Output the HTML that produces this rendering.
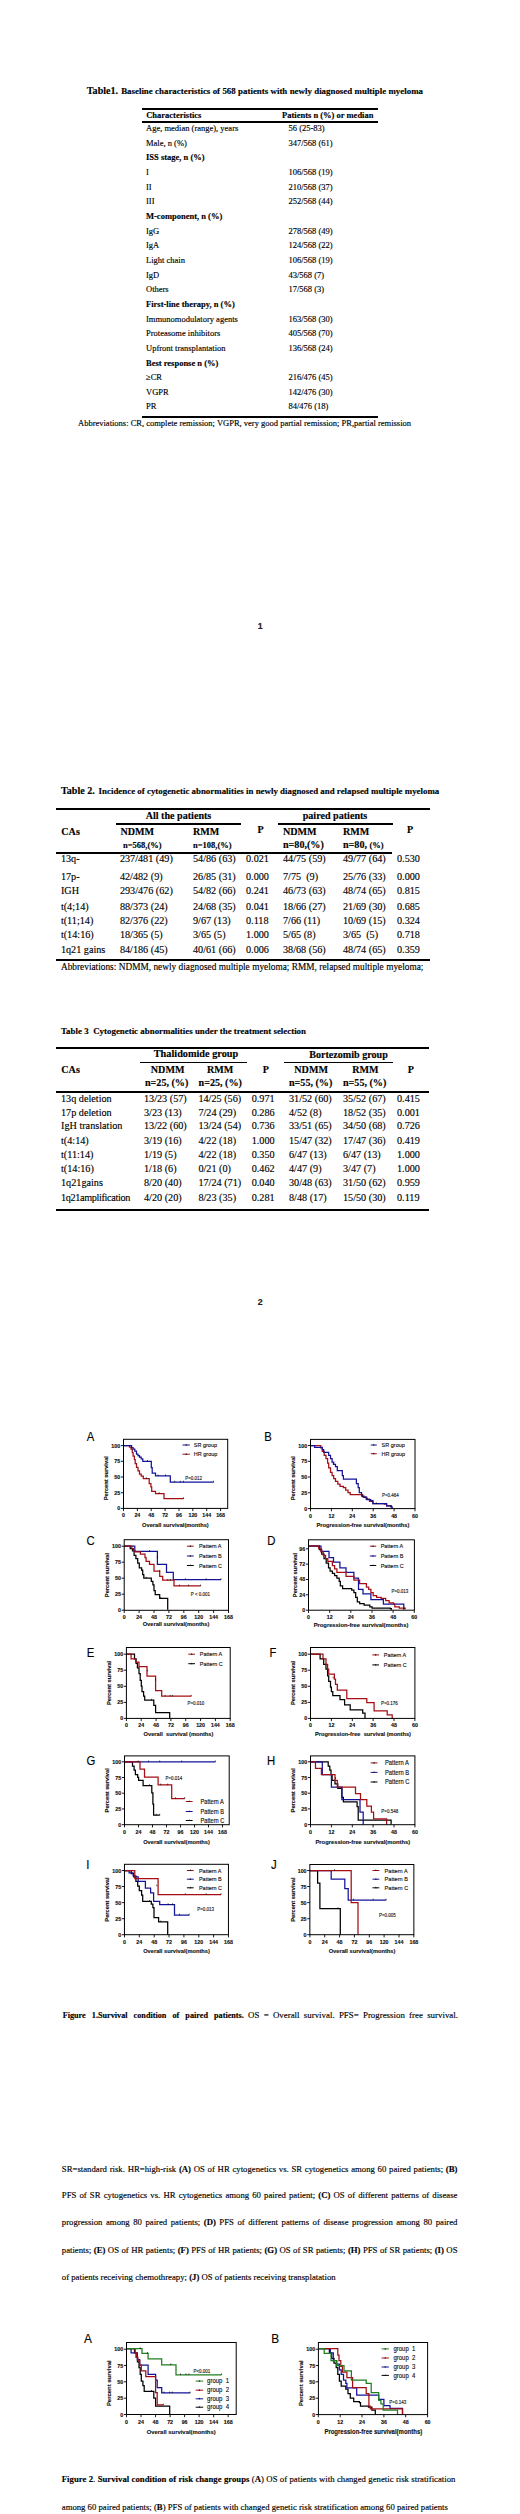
<!DOCTYPE html>
<html lang="en">
<head>
<meta charset="utf-8">
<title>Supplementary tables and figures</title>
<style>
html,body{margin:0;padding:0;background:#fff;}
body{width:520px;height:2514px;position:relative;overflow:hidden;font-family:"Liberation Serif",serif;color:#000;}
.t{position:absolute;white-space:nowrap;-webkit-text-stroke:0.14px #000;}
.l{position:absolute;}
svg{position:absolute;left:0;top:0;overflow:visible;}
svg text{font-family:"Liberation Sans",sans-serif;}
</style>
</head>
<body>
<div class="t" style="left:86.8px;top:84.93px;font-size:10.1px;line-height:12.12px;font-weight:bold;">Table1.</div>
<div class="t" style="left:121.2px;top:86.06px;font-size:8.9px;line-height:10.68px;font-weight:bold;width:301.8px;text-align:justify;text-align-last:justify;">Baseline characteristics of 568 patients with newly diagnosed multiple myeloma</div>
<div class="l" style="left:142px;top:108.10px;width:236.2px;height:2.0px;background:#000"></div>
<div class="l" style="left:142px;top:120.65px;width:236.2px;height:1.9px;background:#000"></div>
<div class="t" style="left:146.2px;top:110.13px;font-size:8.5px;line-height:10.2px;font-weight:bold;">Characteristics</div>
<div class="t" style="left:282px;top:110.13px;font-size:8.5px;line-height:10.2px;font-weight:bold;">Patients n (%) or median</div>
<div class="t" style="left:146px;top:123.03px;font-size:8.5px;line-height:10.2px;">Age, median (range), years</div>
<div class="t" style="left:288.5px;top:123.03px;font-size:8.5px;line-height:10.2px;">56 (25-83)</div>
<div class="t" style="left:146px;top:137.69px;font-size:8.5px;line-height:10.2px;">Male, n (%)</div>
<div class="t" style="left:288.5px;top:137.69px;font-size:8.5px;line-height:10.2px;">347/568 (61)</div>
<div class="t" style="left:146px;top:152.34px;font-size:8.5px;line-height:10.2px;font-weight:bold;">ISS stage, n (%)</div>
<div class="t" style="left:146px;top:167.00px;font-size:8.5px;line-height:10.2px;">I</div>
<div class="t" style="left:288.5px;top:167.00px;font-size:8.5px;line-height:10.2px;">106/568 (19)</div>
<div class="t" style="left:146px;top:181.65px;font-size:8.5px;line-height:10.2px;">II</div>
<div class="t" style="left:288.5px;top:181.65px;font-size:8.5px;line-height:10.2px;">210/568 (37)</div>
<div class="t" style="left:146px;top:196.31px;font-size:8.5px;line-height:10.2px;">III</div>
<div class="t" style="left:288.5px;top:196.31px;font-size:8.5px;line-height:10.2px;">252/568 (44)</div>
<div class="t" style="left:146px;top:210.96px;font-size:8.5px;line-height:10.2px;font-weight:bold;">M-component, n (%)</div>
<div class="t" style="left:146px;top:225.62px;font-size:8.5px;line-height:10.2px;">IgG</div>
<div class="t" style="left:288.5px;top:225.62px;font-size:8.5px;line-height:10.2px;">278/568 (49)</div>
<div class="t" style="left:146px;top:240.27px;font-size:8.5px;line-height:10.2px;">IgA</div>
<div class="t" style="left:288.5px;top:240.27px;font-size:8.5px;line-height:10.2px;">124/568 (22)</div>
<div class="t" style="left:146px;top:254.93px;font-size:8.5px;line-height:10.2px;">Light chain</div>
<div class="t" style="left:288.5px;top:254.93px;font-size:8.5px;line-height:10.2px;">106/568 (19)</div>
<div class="t" style="left:146px;top:269.58px;font-size:8.5px;line-height:10.2px;">IgD</div>
<div class="t" style="left:288.5px;top:269.58px;font-size:8.5px;line-height:10.2px;">43/568 (7)</div>
<div class="t" style="left:146px;top:284.24px;font-size:8.5px;line-height:10.2px;">Others</div>
<div class="t" style="left:288.5px;top:284.24px;font-size:8.5px;line-height:10.2px;">17/568 (3)</div>
<div class="t" style="left:146px;top:298.89px;font-size:8.5px;line-height:10.2px;font-weight:bold;">First-line therapy, n (%)</div>
<div class="t" style="left:146px;top:313.55px;font-size:8.5px;line-height:10.2px;">Immunomodulatory agents</div>
<div class="t" style="left:288.5px;top:313.55px;font-size:8.5px;line-height:10.2px;">163/568 (30)</div>
<div class="t" style="left:146px;top:328.20px;font-size:8.5px;line-height:10.2px;">Proteasome inhibitors</div>
<div class="t" style="left:288.5px;top:328.20px;font-size:8.5px;line-height:10.2px;">405/568 (70)</div>
<div class="t" style="left:146px;top:342.86px;font-size:8.5px;line-height:10.2px;">Upfront transplantation</div>
<div class="t" style="left:288.5px;top:342.86px;font-size:8.5px;line-height:10.2px;">136/568 (24)</div>
<div class="t" style="left:146px;top:357.51px;font-size:8.5px;line-height:10.2px;font-weight:bold;">Best response n (%)</div>
<div class="t" style="left:146px;top:372.17px;font-size:8.5px;line-height:10.2px;">≥CR</div>
<div class="t" style="left:288.5px;top:372.17px;font-size:8.5px;line-height:10.2px;">216/476 (45)</div>
<div class="t" style="left:146px;top:386.82px;font-size:8.5px;line-height:10.2px;">VGPR</div>
<div class="t" style="left:288.5px;top:386.82px;font-size:8.5px;line-height:10.2px;">142/476 (30)</div>
<div class="t" style="left:146px;top:401.48px;font-size:8.5px;line-height:10.2px;">PR</div>
<div class="t" style="left:288.5px;top:401.48px;font-size:8.5px;line-height:10.2px;">84/476 (18)</div>
<div class="l" style="left:142px;top:416.00px;width:236.2px;height:2.0px;background:#000"></div>
<div class="t" style="left:78px;top:418.03px;font-size:8.5px;line-height:10.2px;width:333px;text-align:justify;text-align-last:justify;">Abbreviations: CR, complete remission; VGPR, very good partial remission; PR,partial remission</div>
<div class="t" style="left:257.8px;top:621.47px;font-size:8.8px;line-height:10.56px;font-weight:bold;font-family:'Liberation Sans', sans-serif;color:#222;">1</div>
<div class="t" style="left:257.8px;top:1297.17px;font-size:8.8px;line-height:10.56px;font-weight:bold;font-family:'Liberation Sans', sans-serif;color:#222;">2</div>
<div class="t" style="left:61px;top:785.03px;font-size:10.1px;line-height:12.12px;font-weight:bold;">Table 2.</div>
<div class="t" style="left:98.6px;top:786.17px;font-size:8.88px;line-height:10.66px;font-weight:bold;width:340.7px;text-align:justify;text-align-last:justify;">Incidence of cytogenetic abnormalities in newly diagnosed and relapsed multiple myeloma</div>
<div class="l" style="left:56.3px;top:808.10px;width:373.7px;height:2.0px;background:#000"></div>
<div class="l" style="left:115.5px;top:823.45px;width:125.5px;height:1.7px;background:#000"></div>
<div class="l" style="left:277.5px;top:823.45px;width:115.0px;height:1.7px;background:#000"></div>
<div class="l" style="left:56.3px;top:851.85px;width:336.2px;height:1.9px;background:#000"></div>
<div class="l" style="left:56.3px;top:959.30px;width:373.7px;height:2.0px;background:#000"></div>
<div class="t" style="left:116px;top:810.33px;font-size:10.1px;line-height:12.12px;font-weight:bold;width:125px;text-align:center;">All the patients</div>
<div class="t" style="left:277.5px;top:810.33px;font-size:10.1px;line-height:12.12px;font-weight:bold;width:115px;text-align:center;">paired patients</div>
<div class="t" style="left:61.3px;top:825.63px;font-size:10.1px;line-height:12.12px;font-weight:bold;">CAs</div>
<div class="t" style="left:120.5px;top:825.63px;font-size:10.1px;line-height:12.12px;font-weight:bold;">NDMM</div>
<div class="t" style="left:193px;top:825.63px;font-size:10.1px;line-height:12.12px;font-weight:bold;">RMM</div>
<div class="t" style="left:283px;top:825.63px;font-size:10.1px;line-height:12.12px;font-weight:bold;">NDMM</div>
<div class="t" style="left:343px;top:825.63px;font-size:10.1px;line-height:12.12px;font-weight:bold;">RMM</div>
<div class="t" style="left:257.6px;top:824.03px;font-size:10.1px;line-height:12.12px;font-weight:bold;">P</div>
<div class="t" style="left:407px;top:824.03px;font-size:10.1px;line-height:12.12px;font-weight:bold;">P</div>
<div class="t" style="left:123px;top:840.13px;font-size:8.5px;line-height:10.2px;font-weight:bold;">n=568,(%)</div>
<div class="t" style="left:193px;top:840.13px;font-size:8.5px;line-height:10.2px;font-weight:bold;">n=108,(%)</div>
<div class="t" style="left:283px;top:838.63px;font-size:10.1px;line-height:12.12px;font-weight:bold;">n=80,(%)</div>
<div class="t" style="left:343px;top:838.63px;font-size:10.1px;line-height:12.12px;font-weight:bold;">n=80, <span style="font-size:8.5px">(%)</span></div>
<div class="t" style="left:60.9px;top:853.34px;font-size:10.2px;line-height:12.24px;">13q-</div>
<div class="t" style="left:119.9px;top:853.34px;font-size:10.2px;line-height:12.24px;">237/481 (49)</div>
<div class="t" style="left:193px;top:853.34px;font-size:10.2px;line-height:12.24px;">54/86 (63)</div>
<div class="t" style="left:246px;top:853.34px;font-size:10.2px;line-height:12.24px;">0.021</div>
<div class="t" style="left:283px;top:853.34px;font-size:10.2px;line-height:12.24px;">44/75 (59)</div>
<div class="t" style="left:343px;top:853.34px;font-size:10.2px;line-height:12.24px;">49/77 (64)</div>
<div class="t" style="left:397px;top:853.34px;font-size:10.2px;line-height:12.24px;">0.530</div>
<div class="t" style="left:60.9px;top:870.94px;font-size:10.2px;line-height:12.24px;">17p-</div>
<div class="t" style="left:119.9px;top:870.94px;font-size:10.2px;line-height:12.24px;">42/482 (9)</div>
<div class="t" style="left:193px;top:870.94px;font-size:10.2px;line-height:12.24px;">26/85 (31)</div>
<div class="t" style="left:246px;top:870.94px;font-size:10.2px;line-height:12.24px;">0.000</div>
<div class="t" style="left:283px;top:870.94px;font-size:10.2px;line-height:12.24px;">7/75  (9)</div>
<div class="t" style="left:343px;top:870.94px;font-size:10.2px;line-height:12.24px;">25/76 (33)</div>
<div class="t" style="left:397px;top:870.94px;font-size:10.2px;line-height:12.24px;">0.000</div>
<div class="t" style="left:60.9px;top:884.54px;font-size:10.2px;line-height:12.24px;">IGH</div>
<div class="t" style="left:119.9px;top:884.54px;font-size:10.2px;line-height:12.24px;">293/476 (62)</div>
<div class="t" style="left:193px;top:884.54px;font-size:10.2px;line-height:12.24px;">54/82 (66)</div>
<div class="t" style="left:246px;top:884.54px;font-size:10.2px;line-height:12.24px;">0.241</div>
<div class="t" style="left:283px;top:884.54px;font-size:10.2px;line-height:12.24px;">46/73 (63)</div>
<div class="t" style="left:343px;top:884.54px;font-size:10.2px;line-height:12.24px;">48/74 (65)</div>
<div class="t" style="left:397px;top:884.54px;font-size:10.2px;line-height:12.24px;">0.815</div>
<div class="t" style="left:60.9px;top:901.44px;font-size:10.2px;line-height:12.24px;">t(4;14)</div>
<div class="t" style="left:119.9px;top:901.44px;font-size:10.2px;line-height:12.24px;">88/373 (24)</div>
<div class="t" style="left:193px;top:901.44px;font-size:10.2px;line-height:12.24px;">24/68 (35)</div>
<div class="t" style="left:246px;top:901.44px;font-size:10.2px;line-height:12.24px;">0.041</div>
<div class="t" style="left:283px;top:901.44px;font-size:10.2px;line-height:12.24px;">18/66 (27)</div>
<div class="t" style="left:343px;top:901.44px;font-size:10.2px;line-height:12.24px;">21/69 (30)</div>
<div class="t" style="left:397px;top:901.44px;font-size:10.2px;line-height:12.24px;">0.685</div>
<div class="t" style="left:60.9px;top:915.04px;font-size:10.2px;line-height:12.24px;">t(11;14)</div>
<div class="t" style="left:119.9px;top:915.04px;font-size:10.2px;line-height:12.24px;">82/376 (22)</div>
<div class="t" style="left:193px;top:915.04px;font-size:10.2px;line-height:12.24px;">9/67 (13)</div>
<div class="t" style="left:246px;top:915.04px;font-size:10.2px;line-height:12.24px;">0.118</div>
<div class="t" style="left:283px;top:915.04px;font-size:10.2px;line-height:12.24px;">7/66 (11)</div>
<div class="t" style="left:343px;top:915.04px;font-size:10.2px;line-height:12.24px;">10/69 (15)</div>
<div class="t" style="left:397px;top:915.04px;font-size:10.2px;line-height:12.24px;">0.324</div>
<div class="t" style="left:60.9px;top:928.54px;font-size:10.2px;line-height:12.24px;">t(14:16)</div>
<div class="t" style="left:119.9px;top:928.54px;font-size:10.2px;line-height:12.24px;">18/365 (5)</div>
<div class="t" style="left:193px;top:928.54px;font-size:10.2px;line-height:12.24px;">3/65 (5)</div>
<div class="t" style="left:246px;top:928.54px;font-size:10.2px;line-height:12.24px;">1.000</div>
<div class="t" style="left:283px;top:928.54px;font-size:10.2px;line-height:12.24px;">5/65 (8)</div>
<div class="t" style="left:343px;top:928.54px;font-size:10.2px;line-height:12.24px;">3/65  (5)</div>
<div class="t" style="left:397px;top:928.54px;font-size:10.2px;line-height:12.24px;">0.718</div>
<div class="t" style="left:60.9px;top:944.24px;font-size:10.2px;line-height:12.24px;">1q21 gains</div>
<div class="t" style="left:119.9px;top:944.24px;font-size:10.2px;line-height:12.24px;">84/186 (45)</div>
<div class="t" style="left:193px;top:944.24px;font-size:10.2px;line-height:12.24px;">40/61 (66)</div>
<div class="t" style="left:246px;top:944.24px;font-size:10.2px;line-height:12.24px;">0.006</div>
<div class="t" style="left:283px;top:944.24px;font-size:10.2px;line-height:12.24px;">38/68 (56)</div>
<div class="t" style="left:343px;top:944.24px;font-size:10.2px;line-height:12.24px;">48/74 (65)</div>
<div class="t" style="left:397px;top:944.24px;font-size:10.2px;line-height:12.24px;">0.359</div>
<div class="t" style="left:61px;top:961.68px;font-size:9.3px;line-height:11.16px;width:362.4px;text-align:justify;text-align-last:justify;">Abbreviations: NDMM, newly diagnosed multiple myeloma; RMM, relapsed multiple myeloma;</div>
<div class="t" style="left:61px;top:1025.56px;font-size:8.9px;line-height:10.68px;font-weight:bold;width:245px;text-align:justify;text-align-last:justify;">Table 3  Cytogenetic abnormalities under the treatment selection</div>
<div class="l" style="left:56px;top:1046.50px;width:372.5px;height:2.0px;background:#000"></div>
<div class="l" style="left:139.5px;top:1061.75px;width:107.80000000000001px;height:1.7px;background:#000"></div>
<div class="l" style="left:284px;top:1061.75px;width:108.5px;height:1.7px;background:#000"></div>
<div class="l" style="left:56px;top:1091.05px;width:372.5px;height:1.7px;background:#000"></div>
<div class="l" style="left:56px;top:1209.30px;width:372.5px;height:2.0px;background:#000"></div>
<div class="t" style="left:142.1px;top:1048.49px;font-size:10.25px;line-height:12.3px;font-weight:bold;width:107.8px;text-align:center;">Thalidomide group</div>
<div class="t" style="left:283px;top:1048.63px;font-size:10.1px;line-height:12.12px;font-weight:bold;width:131px;text-align:center;">Bortezomib group</div>
<div class="t" style="left:61.3px;top:1064.23px;font-size:10.1px;line-height:12.12px;font-weight:bold;">CAs</div>
<div class="t" style="left:150.8px;top:1064.23px;font-size:10.1px;line-height:12.12px;font-weight:bold;">NDMM</div>
<div class="t" style="left:207px;top:1064.23px;font-size:10.1px;line-height:12.12px;font-weight:bold;">RMM</div>
<div class="t" style="left:294.3px;top:1064.23px;font-size:10.1px;line-height:12.12px;font-weight:bold;">NDMM</div>
<div class="t" style="left:352.2px;top:1064.23px;font-size:10.1px;line-height:12.12px;font-weight:bold;">RMM</div>
<div class="t" style="left:262.7px;top:1064.43px;font-size:10.1px;line-height:12.12px;font-weight:bold;">P</div>
<div class="t" style="left:407.7px;top:1064.43px;font-size:10.1px;line-height:12.12px;font-weight:bold;">P</div>
<div class="t" style="left:145px;top:1077.43px;font-size:10.1px;line-height:12.12px;font-weight:bold;">n=25, (%)</div>
<div class="t" style="left:198.6px;top:1077.43px;font-size:10.1px;line-height:12.12px;font-weight:bold;">n=25, (%)</div>
<div class="t" style="left:289px;top:1077.43px;font-size:10.1px;line-height:12.12px;font-weight:bold;">n=55, (%)</div>
<div class="t" style="left:343px;top:1077.43px;font-size:10.1px;line-height:12.12px;font-weight:bold;">n=55, (%)</div>
<div class="t" style="left:61.0px;top:1092.84px;font-size:10.2px;line-height:12.24px;">13q deletion</div>
<div class="t" style="left:144.0px;top:1092.84px;font-size:10.2px;line-height:12.24px;">13/23 (57)</div>
<div class="t" style="left:198.4px;top:1092.84px;font-size:10.2px;line-height:12.24px;">14/25 (56)</div>
<div class="t" style="left:251.7px;top:1092.84px;font-size:10.2px;line-height:12.24px;">0.971</div>
<div class="t" style="left:289px;top:1092.84px;font-size:10.2px;line-height:12.24px;">31/52 (60)</div>
<div class="t" style="left:343px;top:1092.84px;font-size:10.2px;line-height:12.24px;">35/52 (67)</div>
<div class="t" style="left:397px;top:1092.84px;font-size:10.2px;line-height:12.24px;">0.415</div>
<div class="t" style="left:61.0px;top:1106.84px;font-size:10.2px;line-height:12.24px;">17p deletion</div>
<div class="t" style="left:144.0px;top:1106.84px;font-size:10.2px;line-height:12.24px;">3/23 (13)</div>
<div class="t" style="left:198.4px;top:1106.84px;font-size:10.2px;line-height:12.24px;">7/24 (29)</div>
<div class="t" style="left:251.7px;top:1106.84px;font-size:10.2px;line-height:12.24px;">0.286</div>
<div class="t" style="left:289px;top:1106.84px;font-size:10.2px;line-height:12.24px;">4/52 (8)</div>
<div class="t" style="left:343px;top:1106.84px;font-size:10.2px;line-height:12.24px;">18/52 (35)</div>
<div class="t" style="left:397px;top:1106.84px;font-size:10.2px;line-height:12.24px;">0.001</div>
<div class="t" style="left:61.0px;top:1120.34px;font-size:10.2px;line-height:12.24px;">IgH translation</div>
<div class="t" style="left:144.0px;top:1120.34px;font-size:10.2px;line-height:12.24px;">13/22 (60)</div>
<div class="t" style="left:198.4px;top:1120.34px;font-size:10.2px;line-height:12.24px;">13/24 (54)</div>
<div class="t" style="left:251.7px;top:1120.34px;font-size:10.2px;line-height:12.24px;">0.736</div>
<div class="t" style="left:289px;top:1120.34px;font-size:10.2px;line-height:12.24px;">33/51 (65)</div>
<div class="t" style="left:343px;top:1120.34px;font-size:10.2px;line-height:12.24px;">34/50 (68)</div>
<div class="t" style="left:397px;top:1120.34px;font-size:10.2px;line-height:12.24px;">0.726</div>
<div class="t" style="left:61.0px;top:1135.34px;font-size:10.2px;line-height:12.24px;">t(4:14)</div>
<div class="t" style="left:144.0px;top:1135.34px;font-size:10.2px;line-height:12.24px;">3/19 (16)</div>
<div class="t" style="left:198.4px;top:1135.34px;font-size:10.2px;line-height:12.24px;">4/22 (18)</div>
<div class="t" style="left:251.7px;top:1135.34px;font-size:10.2px;line-height:12.24px;">1.000</div>
<div class="t" style="left:289px;top:1135.34px;font-size:10.2px;line-height:12.24px;">15/47 (32)</div>
<div class="t" style="left:343px;top:1135.34px;font-size:10.2px;line-height:12.24px;">17/47 (36)</div>
<div class="t" style="left:397px;top:1135.34px;font-size:10.2px;line-height:12.24px;">0.419</div>
<div class="t" style="left:61.0px;top:1148.94px;font-size:10.2px;line-height:12.24px;">t(11:14)</div>
<div class="t" style="left:144.0px;top:1148.94px;font-size:10.2px;line-height:12.24px;">1/19 (5)</div>
<div class="t" style="left:198.4px;top:1148.94px;font-size:10.2px;line-height:12.24px;">4/22 (18)</div>
<div class="t" style="left:251.7px;top:1148.94px;font-size:10.2px;line-height:12.24px;">0.350</div>
<div class="t" style="left:289px;top:1148.94px;font-size:10.2px;line-height:12.24px;">6/47 (13)</div>
<div class="t" style="left:343px;top:1148.94px;font-size:10.2px;line-height:12.24px;">6/47 (13)</div>
<div class="t" style="left:397px;top:1148.94px;font-size:10.2px;line-height:12.24px;">1.000</div>
<div class="t" style="left:61.0px;top:1162.74px;font-size:10.2px;line-height:12.24px;">t(14:16)</div>
<div class="t" style="left:144.0px;top:1162.74px;font-size:10.2px;line-height:12.24px;">1/18 (6)</div>
<div class="t" style="left:198.4px;top:1162.74px;font-size:10.2px;line-height:12.24px;">0/21 (0)</div>
<div class="t" style="left:251.7px;top:1162.74px;font-size:10.2px;line-height:12.24px;">0.462</div>
<div class="t" style="left:289px;top:1162.74px;font-size:10.2px;line-height:12.24px;">4/47 (9)</div>
<div class="t" style="left:343px;top:1162.74px;font-size:10.2px;line-height:12.24px;">3/47 (7)</div>
<div class="t" style="left:397px;top:1162.74px;font-size:10.2px;line-height:12.24px;">1.000</div>
<div class="t" style="left:61.0px;top:1177.04px;font-size:10.2px;line-height:12.24px;">1q21gains</div>
<div class="t" style="left:144.0px;top:1177.04px;font-size:10.2px;line-height:12.24px;">8/20 (40)</div>
<div class="t" style="left:198.4px;top:1177.04px;font-size:10.2px;line-height:12.24px;">17/24 (71)</div>
<div class="t" style="left:251.7px;top:1177.04px;font-size:10.2px;line-height:12.24px;">0.040</div>
<div class="t" style="left:289px;top:1177.04px;font-size:10.2px;line-height:12.24px;">30/48 (63)</div>
<div class="t" style="left:343px;top:1177.04px;font-size:10.2px;line-height:12.24px;">31/50 (62)</div>
<div class="t" style="left:397px;top:1177.04px;font-size:10.2px;line-height:12.24px;">0.959</div>
<div class="t" style="left:61.0px;top:1192.24px;font-size:10.2px;line-height:12.24px;letter-spacing:-0.34px;">1q21amplification</div>
<div class="t" style="left:144.0px;top:1192.24px;font-size:10.2px;line-height:12.24px;">4/20 (20)</div>
<div class="t" style="left:198.4px;top:1192.24px;font-size:10.2px;line-height:12.24px;">8/23 (35)</div>
<div class="t" style="left:251.7px;top:1192.24px;font-size:10.2px;line-height:12.24px;">0.281</div>
<div class="t" style="left:289px;top:1192.24px;font-size:10.2px;line-height:12.24px;">8/48 (17)</div>
<div class="t" style="left:343px;top:1192.24px;font-size:10.2px;line-height:12.24px;">15/50 (30)</div>
<div class="t" style="left:397px;top:1192.24px;font-size:10.2px;line-height:12.24px;">0.119</div>
<div class="t" style="left:62.7px;top:2010.06px;font-size:8.9px;line-height:10.68px;width:395.3px;text-align:justify;text-align-last:justify;"><b style="font-size:8.2px;word-spacing:2px">Figure 1.Survival condition of paired patients.</b> OS = Overall survival. PFS= Progression free survival.</div>
<div class="t" style="left:61.8px;top:2163.53px;font-size:8.72px;line-height:10.46px;width:395.7px;text-align:justify;text-align-last:justify;">SR=standard risk. HR=high-risk <b>(A)</b> OS of HR cytogenetics vs. SR cytogenetics among 60 paired patients; <b>(B)</b></div>
<div class="t" style="left:61.8px;top:2190.23px;font-size:8.72px;line-height:10.46px;width:395.7px;text-align:justify;text-align-last:justify;">PFS of SR cytogenetics vs. HR cytogenetics among 60 paired patient; <b>(C)</b> OS of different patterns of disease</div>
<div class="t" style="left:61.8px;top:2217.33px;font-size:8.72px;line-height:10.46px;width:395.7px;text-align:justify;text-align-last:justify;">progression among 80 paired patients; <b>(D)</b> PFS of different patterns of disease progression among 80 paired</div>
<div class="t" style="left:61.8px;top:2244.83px;font-size:8.72px;line-height:10.46px;width:395.7px;text-align:justify;text-align-last:justify;">patients; <b>(E)</b> OS of HR patients; <b>(F)</b> PFS of HR patients; <b>(G)</b> OS of SR patients; <b>(H)</b> PFS of SR patients; <b>(I)</b> OS</div>
<div class="t" style="left:61.8px;top:2271.53px;font-size:8.72px;line-height:10.46px;">of patients receiving chemothreapy; <b>(J)</b> OS of patients receiving transplatation</div>
<div class="t" style="left:61.8px;top:2474.33px;font-size:8.72px;line-height:10.46px;width:393.6px;text-align:justify;text-align-last:justify;"><b>Figure 2</b>. <b>Survival condition of risk change groups</b> (<b>A</b>) OS of patients with changed genetic risk stratification</div>
<div class="t" style="left:61.8px;top:2501.84px;font-size:8.7px;line-height:10.44px;">among 60 paired patients; (<b>B</b>) PFS of patients with changed genetic risk stratification among 60 paired patients</div>
<svg width="520" height="2514" viewBox="0 0 520 2514">
<g stroke="#000" stroke-width="0.12" paint-order="stroke">
<g>
<text transform="translate(86.70 1440.8) scale(0.9 1)" font-size="12.6" fill="#000">A</text>
<path d="M123.6 1445.5H128.5H129.5V1447.0H131.0V1449.1H132.3V1452.5H133.1V1456.1H134.4V1459.7H135.2V1463.5H136.5V1467.3H138.0V1470.9H139.5V1474.1H141.2V1476.2H143.3V1478.7H149.2V1483.6H150.9V1486.8H151.7V1491.4H155.5V1493.5H164.0V1498.6H183.5" fill="none" stroke="#a50e14" stroke-width="1.25"/>
<path d="M123.6 1445.5H130.6H131.6V1447.6H133.1V1449.1H134.8V1451.2H136.5V1454.0H138.0V1455.5H139.5V1457.2H141.2V1458.8H142.8V1461.4H151.3V1467.7H152.2V1473.0H155.5V1475.8H170.3V1482.1H213.5" fill="none" stroke="#13139a" stroke-width="1.25"/>
<path d="M139.5 1455.9v1.5M147.5 1460.1v1.5M158.1 1474.5v1.5M165.5 1474.5v1.5M174.6 1480.8v1.5M180.3 1480.8v1.5M183.5 1480.8v1.5M213.5 1480.8v1.5M146.4 1477.4v1.5M159.1 1492.2v1.5M183.5 1497.3v1.5" stroke="#000" stroke-width="0.7" fill="none"/>
<rect x="123.5" y="1439.3" width="104.2" height="69.1" fill="none" stroke="#000" stroke-width="1.0"/>
<text transform="translate(123.50 1517.40) scale(1 1.06)" font-size="5.3" font-weight="bold" text-anchor="middle" fill="#111" xml:space="preserve">0</text>
<text transform="translate(137.37 1517.40) scale(1 1.06)" font-size="5.3" font-weight="bold" text-anchor="middle" fill="#111" xml:space="preserve">24</text>
<text transform="translate(151.24 1517.40) scale(1 1.06)" font-size="5.3" font-weight="bold" text-anchor="middle" fill="#111" xml:space="preserve">48</text>
<text transform="translate(165.11 1517.40) scale(1 1.06)" font-size="5.3" font-weight="bold" text-anchor="middle" fill="#111" xml:space="preserve">72</text>
<text transform="translate(178.98 1517.40) scale(1 1.06)" font-size="5.3" font-weight="bold" text-anchor="middle" fill="#111" xml:space="preserve">96</text>
<text transform="translate(192.85 1517.40) scale(1 1.06)" font-size="5.3" font-weight="bold" text-anchor="middle" fill="#111" xml:space="preserve">120</text>
<text transform="translate(206.72 1517.40) scale(1 1.06)" font-size="5.3" font-weight="bold" text-anchor="middle" fill="#111" xml:space="preserve">144</text>
<text transform="translate(220.59 1517.40) scale(1 1.06)" font-size="5.3" font-weight="bold" text-anchor="middle" fill="#111" xml:space="preserve">168</text>
<text transform="translate(120.20 1447.60) scale(1 1.06)" font-size="5.3" font-weight="bold" text-anchor="end" fill="#111" xml:space="preserve">100</text>
<text transform="translate(120.20 1463.30) scale(1 1.06)" font-size="5.3" font-weight="bold" text-anchor="end" fill="#111" xml:space="preserve">75</text>
<text transform="translate(120.20 1479.00) scale(1 1.06)" font-size="5.3" font-weight="bold" text-anchor="end" fill="#111" xml:space="preserve">50</text>
<text transform="translate(120.20 1494.70) scale(1 1.06)" font-size="5.3" font-weight="bold" text-anchor="end" fill="#111" xml:space="preserve">25</text>
<text transform="translate(120.20 1510.40) scale(1 1.06)" font-size="5.3" font-weight="bold" text-anchor="end" fill="#111" xml:space="preserve">0</text>
<path d="M123.5 1508.4v2.7M137.4 1508.4v2.7M151.2 1508.4v2.7M165.1 1508.4v2.7M179.0 1508.4v2.7M192.8 1508.4v2.7M206.7 1508.4v2.7M220.6 1508.4v2.7M123.5 1445.6h-2.6M123.5 1461.3h-2.6M123.5 1477.0h-2.6M123.5 1492.7h-2.6M123.5 1508.4h-2.6" stroke="#000" stroke-width="0.9" fill="none"/>
<text transform="translate(175.40 1526.90) scale(1 1.05)" font-size="5.7" font-weight="bold" text-anchor="middle" fill="#111" xml:space="preserve">Overall survival(months)</text>
<text transform="translate(108.20 1478.20) rotate(-90) scale(1 1.05)" font-size="5.75" font-weight="bold" text-anchor="middle" fill="#111" xml:space="preserve">Percent survival</text>
<path d="M182.5 1445.0H189.8" stroke="#13139a" stroke-width="1"/>
<path d="M185.2 1445.5L186.2 1443.8L187.1 1445.5Z" fill="#111" stroke="none"/>
<text transform="translate(193.80 1447.15) scale(1 1.12)" font-size="5.5" fill="#111" xml:space="preserve">SR group</text>
<path d="M182.5 1454.2H189.8" stroke="#a50e14" stroke-width="1"/>
<path d="M185.2 1454.7L186.2 1453.0L187.1 1454.7Z" fill="#111" stroke="none"/>
<text transform="translate(193.80 1456.35) scale(1 1.12)" font-size="5.5" fill="#111" xml:space="preserve">HR group</text>
<text transform="translate(185.20 1480.40) scale(1 1.08)" font-size="4.5" fill="#222" xml:space="preserve">P=0.012</text>
</g>
<g>
<text transform="translate(264.27 1440.9) scale(0.9 1)" font-size="12.6" fill="#000">B</text>
<path d="M310.5 1445.5H319.6H320.8V1447.8H322.3V1451.4H324.2V1455.3H326.0V1458.7H327.6V1463.2H328.7V1467.8H330.5V1472.3H332.1V1475.7H333.7V1478.7H335.5V1481.4H337.8V1484.1H340.0V1486.4H343.4V1487.7H345.7V1490.0H348.0V1492.7H350.2V1494.5H360.5H362.7V1496.8H366.1V1499.1H369.5V1501.4H372.9V1503.6H384.3V1504.1H386.6V1505.9H391.1V1507.5" fill="none" stroke="#a50e14" stroke-width="1.25"/>
<path d="M310.5 1445.5H314.6V1447.3H321.4H322.3V1449.6H323.7V1452.3H327.6H328.7V1455.3H330.5V1458.7H332.1V1462.1H333.7V1464.4H335.5V1466.6H337.3V1470.5H341.2H342.3V1475.7H343.4V1479.1H354.8H356.4V1483.7H358.2V1487.7H359.3V1492.7H361.6V1496.1H363.9V1497.3H366.8V1499.5H370.7V1500.7H372.9V1503.6H384.3H386.6V1505.9H391.1V1506.8H392.2V1508.6" fill="none" stroke="#13139a" stroke-width="1.25"/>
<path d="M333.2 1463.1v1.5M362.7 1495.5v1.5M367.3 1498.2v1.5M376.3 1502.3v1.5M391.1 1505.5v1.5" stroke="#000" stroke-width="0.7" fill="none"/>
<rect x="310.5" y="1439.4" width="104.5" height="69.2" fill="none" stroke="#000" stroke-width="1.0"/>
<text transform="translate(310.50 1517.60) scale(1 1.06)" font-size="5.3" font-weight="bold" text-anchor="middle" fill="#111" xml:space="preserve">0</text>
<text transform="translate(331.40 1517.60) scale(1 1.06)" font-size="5.3" font-weight="bold" text-anchor="middle" fill="#111" xml:space="preserve">12</text>
<text transform="translate(352.30 1517.60) scale(1 1.06)" font-size="5.3" font-weight="bold" text-anchor="middle" fill="#111" xml:space="preserve">24</text>
<text transform="translate(373.20 1517.60) scale(1 1.06)" font-size="5.3" font-weight="bold" text-anchor="middle" fill="#111" xml:space="preserve">36</text>
<text transform="translate(394.10 1517.60) scale(1 1.06)" font-size="5.3" font-weight="bold" text-anchor="middle" fill="#111" xml:space="preserve">48</text>
<text transform="translate(415.00 1517.60) scale(1 1.06)" font-size="5.3" font-weight="bold" text-anchor="middle" fill="#111" xml:space="preserve">60</text>
<text transform="translate(307.20 1447.50) scale(1 1.06)" font-size="5.3" font-weight="bold" text-anchor="end" fill="#111" xml:space="preserve">100</text>
<text transform="translate(307.20 1463.28) scale(1 1.06)" font-size="5.3" font-weight="bold" text-anchor="end" fill="#111" xml:space="preserve">75</text>
<text transform="translate(307.20 1479.05) scale(1 1.06)" font-size="5.3" font-weight="bold" text-anchor="end" fill="#111" xml:space="preserve">50</text>
<text transform="translate(307.20 1494.82) scale(1 1.06)" font-size="5.3" font-weight="bold" text-anchor="end" fill="#111" xml:space="preserve">25</text>
<text transform="translate(307.20 1510.60) scale(1 1.06)" font-size="5.3" font-weight="bold" text-anchor="end" fill="#111" xml:space="preserve">0</text>
<path d="M310.5 1508.6v2.7M331.4 1508.6v2.7M352.3 1508.6v2.7M373.2 1508.6v2.7M394.1 1508.6v2.7M415.0 1508.6v2.7M310.5 1445.5h-2.6M310.5 1461.3h-2.6M310.5 1477.0h-2.6M310.5 1492.8h-2.6M310.5 1508.6h-2.6" stroke="#000" stroke-width="0.9" fill="none"/>
<text transform="translate(362.90 1527.10) scale(1 1.05)" font-size="5.7" font-weight="bold" text-anchor="middle" fill="#111" xml:space="preserve">Progression-free survival(months)</text>
<text transform="translate(295.20 1478.20) rotate(-90) scale(1 1.05)" font-size="5.75" font-weight="bold" text-anchor="middle" fill="#111" xml:space="preserve">Percent survival</text>
<path d="M370.7 1445.0H376.8" stroke="#13139a" stroke-width="1"/>
<path d="M372.9 1445.5L373.8 1443.8L374.6 1445.5Z" fill="#111" stroke="none"/>
<text transform="translate(381.60 1447.15) scale(1 1.12)" font-size="5.5" fill="#111" xml:space="preserve">SR group</text>
<path d="M370.7 1453.7H376.8" stroke="#a50e14" stroke-width="1"/>
<path d="M372.9 1454.2L373.8 1452.5L374.6 1454.2Z" fill="#111" stroke="none"/>
<text transform="translate(381.60 1455.85) scale(1 1.12)" font-size="5.5" fill="#111" xml:space="preserve">HR group</text>
<text transform="translate(382.00 1497.30) scale(1 1.08)" font-size="4.5" fill="#222" xml:space="preserve">P=0.464</text>
</g>
<g>
<text transform="translate(86.43 1544.5) scale(0.9 1)" font-size="12.6" fill="#000">C</text>
<path d="M124.5 1546.2H129.1H130.2V1548.5H132.5V1550.8H134.1V1555.3H135.9V1558.7H137.7V1563.2H139.3V1567.8H141.6V1570.0H142.7V1574.6H143.8V1578.0H149.5H151.3V1581.4H152.9V1584.8H154.0V1590.5H155.2V1594.5H158.6H159.7V1598.4H167.7V1609.8" fill="none" stroke="#000" stroke-width="1.25"/>
<path d="M124.5 1546.2H134.8V1551.4H156.8H157.4V1564.4H165.4H166.5V1572.3H172.2H173.3V1579.6H221.0" fill="none" stroke="#13139a" stroke-width="1.25"/>
<path d="M124.5 1546.2H130.9H131.8V1548.5H133.6V1550.8H135.4V1551.9H139.3H140.4V1554.2H143.8H145.0V1557.6H146.1V1561.4H148.4H149.5V1564.4H152.9H154.0V1571.2H158.6H159.7V1576.4H162.0H162.7V1580.2H174.0V1585.9H200.6" fill="none" stroke="#a50e14" stroke-width="1.25"/>
<path d="M149.5 1550.1v1.5M157.4 1556.3v1.5M159.7 1569.9v1.5M167.7 1579.0v1.5M170.4 1579.0v1.5M179.5 1584.6v1.5M188.5 1584.6v1.5M185.4 1578.3v1.5M206.2 1578.3v1.5M221.0 1578.3v1.5M200.6 1584.6v1.5M146.1 1576.7v1.5M160.8 1597.1v1.5" stroke="#000" stroke-width="0.7" fill="none"/>
<rect x="124.2" y="1539.7" width="104.3" height="70.6" fill="none" stroke="#000" stroke-width="1.0"/>
<text transform="translate(124.20 1619.30) scale(1 1.06)" font-size="5.3" font-weight="bold" text-anchor="middle" fill="#111" xml:space="preserve">0</text>
<text transform="translate(139.10 1619.30) scale(1 1.06)" font-size="5.3" font-weight="bold" text-anchor="middle" fill="#111" xml:space="preserve">24</text>
<text transform="translate(154.00 1619.30) scale(1 1.06)" font-size="5.3" font-weight="bold" text-anchor="middle" fill="#111" xml:space="preserve">48</text>
<text transform="translate(168.90 1619.30) scale(1 1.06)" font-size="5.3" font-weight="bold" text-anchor="middle" fill="#111" xml:space="preserve">72</text>
<text transform="translate(183.80 1619.30) scale(1 1.06)" font-size="5.3" font-weight="bold" text-anchor="middle" fill="#111" xml:space="preserve">96</text>
<text transform="translate(198.70 1619.30) scale(1 1.06)" font-size="5.3" font-weight="bold" text-anchor="middle" fill="#111" xml:space="preserve">120</text>
<text transform="translate(213.60 1619.30) scale(1 1.06)" font-size="5.3" font-weight="bold" text-anchor="middle" fill="#111" xml:space="preserve">144</text>
<text transform="translate(228.50 1619.30) scale(1 1.06)" font-size="5.3" font-weight="bold" text-anchor="middle" fill="#111" xml:space="preserve">168</text>
<text transform="translate(120.90 1548.20) scale(1 1.06)" font-size="5.3" font-weight="bold" text-anchor="end" fill="#111" xml:space="preserve">100</text>
<text transform="translate(120.90 1564.20) scale(1 1.06)" font-size="5.3" font-weight="bold" text-anchor="end" fill="#111" xml:space="preserve">75</text>
<text transform="translate(120.90 1580.20) scale(1 1.06)" font-size="5.3" font-weight="bold" text-anchor="end" fill="#111" xml:space="preserve">50</text>
<text transform="translate(120.90 1596.20) scale(1 1.06)" font-size="5.3" font-weight="bold" text-anchor="end" fill="#111" xml:space="preserve">25</text>
<text transform="translate(120.90 1612.20) scale(1 1.06)" font-size="5.3" font-weight="bold" text-anchor="end" fill="#111" xml:space="preserve">0</text>
<path d="M124.2 1610.3v2.7M139.1 1610.3v2.7M154.0 1610.3v2.7M168.9 1610.3v2.7M183.8 1610.3v2.7M198.7 1610.3v2.7M213.6 1610.3v2.7M228.5 1610.3v2.7M124.2 1546.2h-2.6M124.2 1562.2h-2.6M124.2 1578.2h-2.6M124.2 1594.2h-2.6M124.2 1610.2h-2.6" stroke="#000" stroke-width="0.9" fill="none"/>
<text transform="translate(176.00 1626.30) scale(1 1.05)" font-size="5.7" font-weight="bold" text-anchor="middle" fill="#111" xml:space="preserve">Overall survival(months)</text>
<text transform="translate(108.90 1575.00) rotate(-90) scale(1 1.05)" font-size="5.75" font-weight="bold" text-anchor="middle" fill="#111" xml:space="preserve">Percent survival</text>
<path d="M186.9 1546.2H193.7" stroke="#a50e14" stroke-width="1"/>
<path d="M189.4 1546.7L190.3 1545.0L191.2 1546.7Z" fill="#111" stroke="none"/>
<text transform="translate(199.00 1548.35) scale(1 1.12)" font-size="5.45" fill="#111" xml:space="preserve">Pattern A</text>
<path d="M186.9 1556.0H193.7" stroke="#13139a" stroke-width="1"/>
<path d="M189.4 1556.5L190.3 1554.8L191.2 1556.5Z" fill="#111" stroke="none"/>
<text transform="translate(199.00 1558.15) scale(1 1.12)" font-size="5.45" fill="#111" xml:space="preserve">Pattern B</text>
<path d="M186.9 1565.5H193.7" stroke="#000" stroke-width="1"/>
<path d="M189.4 1566.0L190.3 1564.3L191.2 1566.0Z" fill="#111" stroke="none"/>
<text transform="translate(199.00 1567.65) scale(1 1.12)" font-size="5.45" fill="#111" xml:space="preserve">Pattern C</text>
<text transform="translate(190.80 1595.90) scale(1 1.08)" font-size="4.5" fill="#222" xml:space="preserve">P < 0.001</text>
</g>
<g>
<text transform="translate(267.29 1544.5) scale(0.9 1)" font-size="12.6" fill="#000">D</text>
<path d="M308.5 1546.2H317.6H319.4V1549.6H321.7V1554.2H324.0V1558.7H326.2V1563.2H328.5V1567.8H330.1V1571.2H332.4V1573.4H334.6V1575.7H336.9V1578.0H339.2V1581.4H340.3V1585.9H342.6V1588.6H351.7V1590.0H353.9V1592.7H355.7V1597.3H357.3V1601.8H359.6V1603.6H364.1V1605.2H369.8V1606.8H372.1V1608.2H390.2V1608.6H391.4V1609.8" fill="none" stroke="#000" stroke-width="1.25"/>
<path d="M308.5 1546.2H320.3H321.0V1551.4H327.8H329.0V1557.6H332.4H333.5V1562.1H339.2H339.9V1567.8H344.8H346.0V1572.3H352.8H353.9V1578.0H357.3H358.5V1589.3H361.9H363.0V1593.9H369.8H370.9V1599.5H382.3H383.4V1604.1H402.7H403.8V1609.8" fill="none" stroke="#13139a" stroke-width="1.25"/>
<path d="M308.5 1546.2H317.6H318.8V1548.5H321.0V1551.9H323.3V1555.3H325.6V1558.7H327.8V1561.4H331.2H332.4V1565.5H334.6V1568.9H336.9V1572.3H344.8H346.0V1576.4H352.8H353.9V1580.2H358.5H359.6V1583.7H365.3H366.4V1587.1H368.7V1589.3H370.9V1592.7H373.2V1595.5H376.6V1597.3H381.2V1598.4H385.7V1600.7H389.1V1602.9H393.6V1604.1H394.8V1606.8H399.3V1608.2H405.0V1609.1" fill="none" stroke="#a50e14" stroke-width="1.25"/>
<path d="M405.0 1607.8v1.5M403.8 1607.3v1.5" stroke="#000" stroke-width="0.7" fill="none"/>
<rect x="308.5" y="1539.8" width="105.9" height="70.4" fill="none" stroke="#000" stroke-width="1.0"/>
<text transform="translate(308.50 1619.20) scale(1 1.06)" font-size="5.3" font-weight="bold" text-anchor="middle" fill="#111" xml:space="preserve">0</text>
<text transform="translate(329.66 1619.20) scale(1 1.06)" font-size="5.3" font-weight="bold" text-anchor="middle" fill="#111" xml:space="preserve">12</text>
<text transform="translate(350.82 1619.20) scale(1 1.06)" font-size="5.3" font-weight="bold" text-anchor="middle" fill="#111" xml:space="preserve">24</text>
<text transform="translate(371.98 1619.20) scale(1 1.06)" font-size="5.3" font-weight="bold" text-anchor="middle" fill="#111" xml:space="preserve">36</text>
<text transform="translate(393.14 1619.20) scale(1 1.06)" font-size="5.3" font-weight="bold" text-anchor="middle" fill="#111" xml:space="preserve">48</text>
<text transform="translate(414.30 1619.20) scale(1 1.06)" font-size="5.3" font-weight="bold" text-anchor="middle" fill="#111" xml:space="preserve">60</text>
<text transform="translate(305.20 1550.76) scale(1 1.06)" font-size="5.3" font-weight="bold" text-anchor="end" fill="#111" xml:space="preserve">96</text>
<text transform="translate(305.20 1566.12) scale(1 1.06)" font-size="5.3" font-weight="bold" text-anchor="end" fill="#111" xml:space="preserve">72</text>
<text transform="translate(305.20 1581.48) scale(1 1.06)" font-size="5.3" font-weight="bold" text-anchor="end" fill="#111" xml:space="preserve">48</text>
<text transform="translate(305.20 1596.84) scale(1 1.06)" font-size="5.3" font-weight="bold" text-anchor="end" fill="#111" xml:space="preserve">24</text>
<text transform="translate(305.20 1612.20) scale(1 1.06)" font-size="5.3" font-weight="bold" text-anchor="end" fill="#111" xml:space="preserve">0</text>
<path d="M308.5 1610.2v2.7M329.7 1610.2v2.7M350.8 1610.2v2.7M372.0 1610.2v2.7M393.1 1610.2v2.7M414.3 1610.2v2.7M308.5 1548.8h-2.6M308.5 1564.1h-2.6M308.5 1579.5h-2.6M308.5 1594.8h-2.6M308.5 1610.2h-2.6" stroke="#000" stroke-width="0.9" fill="none"/>
<text transform="translate(361.00 1626.60) scale(1 1.05)" font-size="5.8" font-weight="bold" text-anchor="middle" fill="#111" xml:space="preserve">Progression-free survival(months)</text>
<text transform="translate(297.00 1575.00) rotate(-90) scale(1 1.05)" font-size="5.75" font-weight="bold" text-anchor="middle" fill="#111" xml:space="preserve">Percent survival</text>
<path d="M369.8 1546.2H376.2" stroke="#a50e14" stroke-width="1"/>
<path d="M372.1 1546.7L373.0 1545.0L373.9 1546.7Z" fill="#111" stroke="none"/>
<text transform="translate(380.70 1548.35) scale(1 1.12)" font-size="5.45" fill="#111" xml:space="preserve">Pattern A</text>
<path d="M369.8 1556.0H376.2" stroke="#13139a" stroke-width="1"/>
<path d="M372.1 1556.5L373.0 1554.8L373.9 1556.5Z" fill="#111" stroke="none"/>
<text transform="translate(380.70 1558.15) scale(1 1.12)" font-size="5.45" fill="#111" xml:space="preserve">Pattern B</text>
<path d="M369.8 1565.5H376.2" stroke="#000" stroke-width="1"/>
<path d="M372.1 1566.0L373.0 1564.3L373.9 1566.0Z" fill="#111" stroke="none"/>
<text transform="translate(380.70 1567.65) scale(1 1.12)" font-size="5.45" fill="#111" xml:space="preserve">Pattern C</text>
<text transform="translate(391.40 1593.20) scale(1 1.08)" font-size="4.5" fill="#222" xml:space="preserve">P=0.013</text>
</g>
<g>
<text transform="translate(86.70 1656.8) scale(0.9 1)" font-size="12.6" fill="#000">E</text>
<path d="M126.5 1654.2H133.8H134.5V1658.8H136.1V1663.3H137.4V1667.8H139.0V1673.5H140.2V1680.3H141.3V1686.0H142.0V1691.7H143.6V1696.2H144.7V1700.0H153.8V1705.3H155.6V1709.8V1712.5H169.7V1718.4" fill="none" stroke="#000" stroke-width="1.25"/>
<path d="M126.5 1654.2H131.1V1658.8H135.6V1662.2H138.3H139.0V1666.7H147.0V1676.2H155.6V1684.4V1690.5H161.0H161.7V1696.2H191.2" fill="none" stroke="#a50e14" stroke-width="1.25"/>
<path d="M147.4 1669.9v1.5M155.6 1679.0v1.5M165.1 1694.9v1.5M170.1 1694.9v1.5M172.4 1694.9v1.5M191.2 1694.9v1.5M151.5 1698.8v1.5" stroke="#000" stroke-width="0.7" fill="none"/>
<rect x="126.4" y="1647.5" width="103.8" height="70.9" fill="none" stroke="#000" stroke-width="1.0"/>
<text transform="translate(126.40 1727.40) scale(1 1.06)" font-size="5.3" font-weight="bold" text-anchor="middle" fill="#111" xml:space="preserve">0</text>
<text transform="translate(141.23 1727.40) scale(1 1.06)" font-size="5.3" font-weight="bold" text-anchor="middle" fill="#111" xml:space="preserve">24</text>
<text transform="translate(156.06 1727.40) scale(1 1.06)" font-size="5.3" font-weight="bold" text-anchor="middle" fill="#111" xml:space="preserve">48</text>
<text transform="translate(170.89 1727.40) scale(1 1.06)" font-size="5.3" font-weight="bold" text-anchor="middle" fill="#111" xml:space="preserve">72</text>
<text transform="translate(185.72 1727.40) scale(1 1.06)" font-size="5.3" font-weight="bold" text-anchor="middle" fill="#111" xml:space="preserve">96</text>
<text transform="translate(200.55 1727.40) scale(1 1.06)" font-size="5.3" font-weight="bold" text-anchor="middle" fill="#111" xml:space="preserve">120</text>
<text transform="translate(215.38 1727.40) scale(1 1.06)" font-size="5.3" font-weight="bold" text-anchor="middle" fill="#111" xml:space="preserve">144</text>
<text transform="translate(230.21 1727.40) scale(1 1.06)" font-size="5.3" font-weight="bold" text-anchor="middle" fill="#111" xml:space="preserve">168</text>
<text transform="translate(123.10 1656.20) scale(1 1.06)" font-size="5.3" font-weight="bold" text-anchor="end" fill="#111" xml:space="preserve">100</text>
<text transform="translate(123.10 1672.25) scale(1 1.06)" font-size="5.3" font-weight="bold" text-anchor="end" fill="#111" xml:space="preserve">75</text>
<text transform="translate(123.10 1688.30) scale(1 1.06)" font-size="5.3" font-weight="bold" text-anchor="end" fill="#111" xml:space="preserve">50</text>
<text transform="translate(123.10 1704.35) scale(1 1.06)" font-size="5.3" font-weight="bold" text-anchor="end" fill="#111" xml:space="preserve">25</text>
<text transform="translate(123.10 1720.40) scale(1 1.06)" font-size="5.3" font-weight="bold" text-anchor="end" fill="#111" xml:space="preserve">0</text>
<path d="M126.4 1718.4v2.7M141.2 1718.4v2.7M156.1 1718.4v2.7M170.9 1718.4v2.7M185.7 1718.4v2.7M200.6 1718.4v2.7M215.4 1718.4v2.7M230.2 1718.4v2.7M126.4 1654.2h-2.6M126.4 1670.2h-2.6M126.4 1686.3h-2.6M126.4 1702.4h-2.6M126.4 1718.4h-2.6" stroke="#000" stroke-width="0.9" fill="none"/>
<text transform="translate(178.50 1735.60) scale(1 1.05)" font-size="5.7" font-weight="bold" text-anchor="middle" fill="#111" xml:space="preserve">Overall  survival (months)</text>
<text transform="translate(111.10 1682.95) rotate(-90) scale(1 1.05)" font-size="5.75" font-weight="bold" text-anchor="middle" fill="#111" xml:space="preserve">Percent survival</text>
<path d="M188.3 1654.2H195.0" stroke="#a50e14" stroke-width="1"/>
<path d="M190.8 1654.7L191.7 1653.0L192.6 1654.7Z" fill="#111" stroke="none"/>
<text transform="translate(199.80 1656.35) scale(1 1.12)" font-size="5.45" fill="#111" xml:space="preserve">Pattern A</text>
<path d="M188.3 1663.7H195.0" stroke="#000" stroke-width="1"/>
<path d="M190.8 1664.2L191.7 1662.5L192.6 1664.2Z" fill="#111" stroke="none"/>
<text transform="translate(199.80 1665.85) scale(1 1.12)" font-size="5.45" fill="#111" xml:space="preserve">Pattern C</text>
<text transform="translate(187.40 1705.10) scale(1 1.08)" font-size="4.5" fill="#222" xml:space="preserve">P=0.010</text>
</g>
<g>
<text transform="translate(269.50 1656.8) scale(0.9 1)" font-size="12.6" fill="#000">F</text>
<path d="M310.5 1654.2H319.2H320.1V1658.8H322.3H323.7V1664.4H326.0V1669.0H327.6V1675.8H328.7V1681.4H330.5V1687.1H331.4V1691.7H332.8V1695.7H338.9H340.0V1699.6H343.4H344.6V1704.8H349.1H350.2V1709.8H362.7V1713.2H365.0V1718.4" fill="none" stroke="#000" stroke-width="1.25"/>
<path d="M310.5 1654.2H322.3H323.0V1658.8H325.3H326.0V1664.4H327.6V1669.0H328.7V1674.0H333.2H334.4V1679.2H335.5V1684.4H337.3V1690.1H346.8V1698.5H366.8V1702.5H373.4H374.1V1710.9H386.6H387.2V1714.8H391.1H392.2V1718.4" fill="none" stroke="#a50e14" stroke-width="1.25"/>
<path d="M333.2 1676.7v1.5" stroke="#000" stroke-width="0.7" fill="none"/>
<rect x="310.5" y="1647.5" width="104.4" height="70.9" fill="none" stroke="#000" stroke-width="1.0"/>
<text transform="translate(310.50 1727.40) scale(1 1.06)" font-size="5.3" font-weight="bold" text-anchor="middle" fill="#111" xml:space="preserve">0</text>
<text transform="translate(331.38 1727.40) scale(1 1.06)" font-size="5.3" font-weight="bold" text-anchor="middle" fill="#111" xml:space="preserve">12</text>
<text transform="translate(352.26 1727.40) scale(1 1.06)" font-size="5.3" font-weight="bold" text-anchor="middle" fill="#111" xml:space="preserve">24</text>
<text transform="translate(373.14 1727.40) scale(1 1.06)" font-size="5.3" font-weight="bold" text-anchor="middle" fill="#111" xml:space="preserve">36</text>
<text transform="translate(394.02 1727.40) scale(1 1.06)" font-size="5.3" font-weight="bold" text-anchor="middle" fill="#111" xml:space="preserve">48</text>
<text transform="translate(414.90 1727.40) scale(1 1.06)" font-size="5.3" font-weight="bold" text-anchor="middle" fill="#111" xml:space="preserve">60</text>
<text transform="translate(307.20 1656.20) scale(1 1.06)" font-size="5.3" font-weight="bold" text-anchor="end" fill="#111" xml:space="preserve">100</text>
<text transform="translate(307.20 1672.25) scale(1 1.06)" font-size="5.3" font-weight="bold" text-anchor="end" fill="#111" xml:space="preserve">75</text>
<text transform="translate(307.20 1688.30) scale(1 1.06)" font-size="5.3" font-weight="bold" text-anchor="end" fill="#111" xml:space="preserve">50</text>
<text transform="translate(307.20 1704.35) scale(1 1.06)" font-size="5.3" font-weight="bold" text-anchor="end" fill="#111" xml:space="preserve">25</text>
<text transform="translate(307.20 1720.40) scale(1 1.06)" font-size="5.3" font-weight="bold" text-anchor="end" fill="#111" xml:space="preserve">0</text>
<path d="M310.5 1718.4v2.7M331.4 1718.4v2.7M352.3 1718.4v2.7M373.1 1718.4v2.7M394.0 1718.4v2.7M414.9 1718.4v2.7M310.5 1654.2h-2.6M310.5 1670.2h-2.6M310.5 1686.3h-2.6M310.5 1702.4h-2.6M310.5 1718.4h-2.6" stroke="#000" stroke-width="0.9" fill="none"/>
<text transform="translate(363.00 1735.60) scale(1 1.05)" font-size="5.7" font-weight="bold" text-anchor="middle" fill="#111" xml:space="preserve">Progression-free  survival (months)</text>
<text transform="translate(295.20 1682.95) rotate(-90) scale(1 1.05)" font-size="5.75" font-weight="bold" text-anchor="middle" fill="#111" xml:space="preserve">Percent survival</text>
<path d="M372.3 1654.9H379.0" stroke="#a50e14" stroke-width="1"/>
<path d="M374.8 1655.4L375.6 1653.7L376.5 1655.4Z" fill="#111" stroke="none"/>
<text transform="translate(383.80 1657.05) scale(1 1.12)" font-size="5.45" fill="#111" xml:space="preserve">Pattern A</text>
<path d="M372.3 1664.9H379.0" stroke="#000" stroke-width="1"/>
<path d="M374.8 1665.4L375.6 1663.7L376.5 1665.4Z" fill="#111" stroke="none"/>
<text transform="translate(383.80 1667.05) scale(1 1.12)" font-size="5.45" fill="#111" xml:space="preserve">Pattern C</text>
<text transform="translate(380.90 1704.60) scale(1 1.08)" font-size="4.5" fill="#222" xml:space="preserve">P=0.176</text>
</g>
<g>
<text transform="translate(86.44 1765.0) scale(0.9 1)" font-size="12.6" fill="#000">G</text>
<path d="M124.5 1761.8H131.3H132.5V1766.1H134.1V1770.2H135.4V1774.7H137.7V1777.4H138.6V1780.4H142.2H143.1V1785.6H151.8V1792.8H152.9V1804.2H153.6V1815.1H159.7" fill="none" stroke="#000" stroke-width="1.25"/>
<path d="M124.5 1761.8H215.3" fill="none" stroke="#13139a" stroke-width="1.25"/>
<path d="M124.5 1761.8H139.3H140.0V1769.0H144.5V1777.0H157.4H158.1V1784.9H171.7V1798.5H184.7" fill="none" stroke="#a50e14" stroke-width="1.25"/>
<path d="M138.2 1760.5v1.5M148.4 1760.5v1.5M159.7 1760.5v1.5M181.7 1760.5v1.5M215.3 1760.5v1.5M160.8 1783.6v1.5M167.7 1783.6v1.5M175.6 1797.2v1.5M184.7 1797.2v1.5M149.5 1784.3v1.5M156.3 1813.8v1.5M159.7 1813.8v1.5" stroke="#000" stroke-width="0.7" fill="none"/>
<rect x="124.5" y="1755.9" width="104.7" height="68.8" fill="none" stroke="#000" stroke-width="1.0"/>
<text transform="translate(124.50 1833.70) scale(1 1.06)" font-size="5.3" font-weight="bold" text-anchor="middle" fill="#111" xml:space="preserve">0</text>
<text transform="translate(138.50 1833.70) scale(1 1.06)" font-size="5.3" font-weight="bold" text-anchor="middle" fill="#111" xml:space="preserve">24</text>
<text transform="translate(152.50 1833.70) scale(1 1.06)" font-size="5.3" font-weight="bold" text-anchor="middle" fill="#111" xml:space="preserve">48</text>
<text transform="translate(166.50 1833.70) scale(1 1.06)" font-size="5.3" font-weight="bold" text-anchor="middle" fill="#111" xml:space="preserve">72</text>
<text transform="translate(180.50 1833.70) scale(1 1.06)" font-size="5.3" font-weight="bold" text-anchor="middle" fill="#111" xml:space="preserve">96</text>
<text transform="translate(194.50 1833.70) scale(1 1.06)" font-size="5.3" font-weight="bold" text-anchor="middle" fill="#111" xml:space="preserve">120</text>
<text transform="translate(208.50 1833.70) scale(1 1.06)" font-size="5.3" font-weight="bold" text-anchor="middle" fill="#111" xml:space="preserve">144</text>
<text transform="translate(222.50 1833.70) scale(1 1.06)" font-size="5.3" font-weight="bold" text-anchor="middle" fill="#111" xml:space="preserve">168</text>
<text transform="translate(121.20 1763.80) scale(1 1.06)" font-size="5.3" font-weight="bold" text-anchor="end" fill="#111" xml:space="preserve">100</text>
<text transform="translate(121.20 1779.50) scale(1 1.06)" font-size="5.3" font-weight="bold" text-anchor="end" fill="#111" xml:space="preserve">75</text>
<text transform="translate(121.20 1795.20) scale(1 1.06)" font-size="5.3" font-weight="bold" text-anchor="end" fill="#111" xml:space="preserve">50</text>
<text transform="translate(121.20 1810.90) scale(1 1.06)" font-size="5.3" font-weight="bold" text-anchor="end" fill="#111" xml:space="preserve">25</text>
<text transform="translate(121.20 1826.60) scale(1 1.06)" font-size="5.3" font-weight="bold" text-anchor="end" fill="#111" xml:space="preserve">0</text>
<path d="M124.5 1824.7v2.7M138.5 1824.7v2.7M152.5 1824.7v2.7M166.5 1824.7v2.7M180.5 1824.7v2.7M194.5 1824.7v2.7M208.5 1824.7v2.7M222.5 1824.7v2.7M124.5 1761.8h-2.6M124.5 1777.5h-2.6M124.5 1793.2h-2.6M124.5 1808.9h-2.6M124.5 1824.6h-2.6" stroke="#000" stroke-width="0.9" fill="none"/>
<text transform="translate(176.50 1843.50) scale(1 1.05)" font-size="5.7" font-weight="bold" text-anchor="middle" fill="#111" xml:space="preserve">Overall survival(months)</text>
<text transform="translate(109.20 1790.30) rotate(-90) scale(1 1.05)" font-size="5.75" font-weight="bold" text-anchor="middle" fill="#111" xml:space="preserve">Percent survival</text>
<path d="M185.8 1801.5H192.6" stroke="#a50e14" stroke-width="1"/>
<path d="M188.3 1802.0L189.2 1800.3L190.1 1802.0Z" fill="#111" stroke="none"/>
<text transform="translate(200.50 1803.65) scale(1 1.12)" font-size="5.65" fill="#111" xml:space="preserve">Pattern A</text>
<path d="M185.8 1811.5H192.6" stroke="#13139a" stroke-width="1"/>
<path d="M188.3 1812.0L189.2 1810.3L190.1 1812.0Z" fill="#111" stroke="none"/>
<text transform="translate(200.50 1813.65) scale(1 1.12)" font-size="5.65" fill="#111" xml:space="preserve">Pattern B</text>
<path d="M185.8 1820.5H192.6" stroke="#000" stroke-width="1"/>
<path d="M188.3 1821.0L189.2 1819.3L190.1 1821.0Z" fill="#111" stroke="none"/>
<text transform="translate(200.50 1822.65) scale(1 1.12)" font-size="5.65" fill="#111" xml:space="preserve">Pattern C</text>
<text transform="translate(165.40 1779.70) scale(1 1.08)" font-size="4.5" fill="#222" xml:space="preserve">P=0.014</text>
</g>
<g>
<text transform="translate(267.09 1765.0) scale(0.9 1)" font-size="12.6" fill="#000">H</text>
<path d="M310.5 1761.8H327.6H328.2V1766.1H329.8V1770.2H331.0V1774.7H332.1V1780.4H334.4H335.0V1783.8H337.8V1788.3H341.2H341.9V1797.4H343.4V1801.9H356.4H357.1V1806.5H358.2V1813.3V1820.1H391.1V1824.6" fill="none" stroke="#000" stroke-width="1.25"/>
<path d="M310.5 1761.8H322.3V1774.7H331.4V1787.2H341.2H341.9V1799.7H360.0V1812.1H363.2V1824.6" fill="none" stroke="#13139a" stroke-width="1.25"/>
<path d="M310.5 1761.8H315.5V1768.3H321.4V1774.7H335.0V1780.4H337.3V1787.2H354.8H355.5V1793.5H360.5V1799.7H366.8V1806.0H370.7H371.4V1812.1H372.9H373.6V1818.9H385.9H386.6V1824.6" fill="none" stroke="#a50e14" stroke-width="1.25"/>
<path d="M335.5 1777.5v1.5" stroke="#000" stroke-width="0.7" fill="none"/>
<rect x="310.5" y="1755.9" width="104.4" height="68.8" fill="none" stroke="#000" stroke-width="1.0"/>
<text transform="translate(310.50 1833.70) scale(1 1.06)" font-size="5.3" font-weight="bold" text-anchor="middle" fill="#111" xml:space="preserve">0</text>
<text transform="translate(331.38 1833.70) scale(1 1.06)" font-size="5.3" font-weight="bold" text-anchor="middle" fill="#111" xml:space="preserve">12</text>
<text transform="translate(352.26 1833.70) scale(1 1.06)" font-size="5.3" font-weight="bold" text-anchor="middle" fill="#111" xml:space="preserve">24</text>
<text transform="translate(373.14 1833.70) scale(1 1.06)" font-size="5.3" font-weight="bold" text-anchor="middle" fill="#111" xml:space="preserve">36</text>
<text transform="translate(394.02 1833.70) scale(1 1.06)" font-size="5.3" font-weight="bold" text-anchor="middle" fill="#111" xml:space="preserve">48</text>
<text transform="translate(414.90 1833.70) scale(1 1.06)" font-size="5.3" font-weight="bold" text-anchor="middle" fill="#111" xml:space="preserve">60</text>
<text transform="translate(307.20 1763.80) scale(1 1.06)" font-size="5.3" font-weight="bold" text-anchor="end" fill="#111" xml:space="preserve">100</text>
<text transform="translate(307.20 1779.50) scale(1 1.06)" font-size="5.3" font-weight="bold" text-anchor="end" fill="#111" xml:space="preserve">75</text>
<text transform="translate(307.20 1795.20) scale(1 1.06)" font-size="5.3" font-weight="bold" text-anchor="end" fill="#111" xml:space="preserve">50</text>
<text transform="translate(307.20 1810.90) scale(1 1.06)" font-size="5.3" font-weight="bold" text-anchor="end" fill="#111" xml:space="preserve">25</text>
<text transform="translate(307.20 1826.60) scale(1 1.06)" font-size="5.3" font-weight="bold" text-anchor="end" fill="#111" xml:space="preserve">0</text>
<path d="M310.5 1824.7v2.7M331.4 1824.7v2.7M352.3 1824.7v2.7M373.1 1824.7v2.7M394.0 1824.7v2.7M414.9 1824.7v2.7M310.5 1761.8h-2.6M310.5 1777.5h-2.6M310.5 1793.2h-2.6M310.5 1808.9h-2.6M310.5 1824.6h-2.6" stroke="#000" stroke-width="0.9" fill="none"/>
<text transform="translate(362.80 1843.80) scale(1 1.05)" font-size="5.8" font-weight="bold" text-anchor="middle" fill="#111" xml:space="preserve">Progression-free survival(months)</text>
<text transform="translate(295.20 1790.30) rotate(-90) scale(1 1.05)" font-size="5.75" font-weight="bold" text-anchor="middle" fill="#111" xml:space="preserve">Percent survival</text>
<path d="M370.7 1762.9H377.5" stroke="#a50e14" stroke-width="1"/>
<path d="M373.2 1763.4L374.1 1761.7L375.0 1763.4Z" fill="#111" stroke="none"/>
<text transform="translate(385.00 1765.05) scale(1 1.12)" font-size="5.8" fill="#111" xml:space="preserve">Pattern A</text>
<path d="M370.7 1772.4H377.5" stroke="#13139a" stroke-width="1"/>
<path d="M373.2 1772.9L374.1 1771.2L375.0 1772.9Z" fill="#111" stroke="none"/>
<text transform="translate(385.00 1774.55) scale(1 1.12)" font-size="5.8" fill="#111" xml:space="preserve">Pattern B</text>
<path d="M370.7 1782.0H377.5" stroke="#000" stroke-width="1"/>
<path d="M373.2 1782.5L374.1 1780.8L375.0 1782.5Z" fill="#111" stroke="none"/>
<text transform="translate(385.00 1784.15) scale(1 1.12)" font-size="5.8" fill="#111" xml:space="preserve">Pattern C</text>
<text transform="translate(381.30 1813.10) scale(1 1.08)" font-size="4.5" fill="#222" xml:space="preserve">P=0.548</text>
</g>
<g>
<text transform="translate(86.25 1869.0) scale(0.9 1)" font-size="12.6" fill="#000">I</text>
<path d="M123.9 1870.5H130.2H131.3V1873.5H133.6V1876.9H135.9V1881.4H137.7V1886.0H139.3V1890.5H141.6V1895.0H142.7V1901.4H149.5H151.3V1904.1H152.9V1907.5H154.0V1913.2V1917.7H157.4H158.6V1921.8H167.7V1934.8" fill="none" stroke="#000" stroke-width="1.25"/>
<path d="M123.9 1870.5H129.1V1872.8H132.5H133.2V1875.8H135.9V1876.9H138.2V1881.4H144.5H145.4V1888.2H149.5H150.6V1892.8H153.6V1901.4H159.0H159.7V1904.6H174.5V1915.0H189.2" fill="none" stroke="#13139a" stroke-width="1.25"/>
<path d="M123.9 1870.5H134.8V1878.7H157.4H158.1V1894.6H221.0" fill="none" stroke="#a50e14" stroke-width="1.25"/>
<path d="M156.8 1884.7v1.5M185.4 1893.3v1.5M206.2 1893.3v1.5M221.0 1893.3v1.5M168.1 1903.3v1.5M172.6 1903.3v1.5M179.5 1913.7v1.5M189.2 1913.7v1.5M149.5 1900.1v1.5M160.8 1920.5v1.5" stroke="#000" stroke-width="0.7" fill="none"/>
<rect x="124.45" y="1864.3" width="104.0" height="70.4" fill="none" stroke="#000" stroke-width="1.0"/>
<text transform="translate(124.45 1943.70) scale(1 1.06)" font-size="5.3" font-weight="bold" text-anchor="middle" fill="#111" xml:space="preserve">0</text>
<text transform="translate(139.31 1943.70) scale(1 1.06)" font-size="5.3" font-weight="bold" text-anchor="middle" fill="#111" xml:space="preserve">24</text>
<text transform="translate(154.17 1943.70) scale(1 1.06)" font-size="5.3" font-weight="bold" text-anchor="middle" fill="#111" xml:space="preserve">48</text>
<text transform="translate(169.03 1943.70) scale(1 1.06)" font-size="5.3" font-weight="bold" text-anchor="middle" fill="#111" xml:space="preserve">72</text>
<text transform="translate(183.89 1943.70) scale(1 1.06)" font-size="5.3" font-weight="bold" text-anchor="middle" fill="#111" xml:space="preserve">96</text>
<text transform="translate(198.75 1943.70) scale(1 1.06)" font-size="5.3" font-weight="bold" text-anchor="middle" fill="#111" xml:space="preserve">120</text>
<text transform="translate(213.61 1943.70) scale(1 1.06)" font-size="5.3" font-weight="bold" text-anchor="middle" fill="#111" xml:space="preserve">144</text>
<text transform="translate(228.47 1943.70) scale(1 1.06)" font-size="5.3" font-weight="bold" text-anchor="middle" fill="#111" xml:space="preserve">168</text>
<text transform="translate(121.15 1872.50) scale(1 1.06)" font-size="5.3" font-weight="bold" text-anchor="end" fill="#111" xml:space="preserve">100</text>
<text transform="translate(121.15 1888.55) scale(1 1.06)" font-size="5.3" font-weight="bold" text-anchor="end" fill="#111" xml:space="preserve">75</text>
<text transform="translate(121.15 1904.60) scale(1 1.06)" font-size="5.3" font-weight="bold" text-anchor="end" fill="#111" xml:space="preserve">50</text>
<text transform="translate(121.15 1920.65) scale(1 1.06)" font-size="5.3" font-weight="bold" text-anchor="end" fill="#111" xml:space="preserve">25</text>
<text transform="translate(121.15 1936.70) scale(1 1.06)" font-size="5.3" font-weight="bold" text-anchor="end" fill="#111" xml:space="preserve">0</text>
<path d="M124.5 1934.7v2.7M139.3 1934.7v2.7M154.2 1934.7v2.7M169.0 1934.7v2.7M183.9 1934.7v2.7M198.8 1934.7v2.7M213.6 1934.7v2.7M228.5 1934.7v2.7M124.45 1870.5h-2.6M124.45 1886.5h-2.6M124.45 1902.6h-2.6M124.45 1918.7h-2.6M124.45 1934.7h-2.6" stroke="#000" stroke-width="0.9" fill="none"/>
<text transform="translate(176.50 1952.60) scale(1 1.05)" font-size="5.7" font-weight="bold" text-anchor="middle" fill="#111" xml:space="preserve">Overall survival(months)</text>
<text transform="translate(109.15 1899.50) rotate(-90) scale(1 1.05)" font-size="5.75" font-weight="bold" text-anchor="middle" fill="#111" xml:space="preserve">Percent survival</text>
<path d="M186.9 1870.5H193.7" stroke="#a50e14" stroke-width="1"/>
<path d="M189.4 1871.0L190.3 1869.3L191.2 1871.0Z" fill="#111" stroke="none"/>
<text transform="translate(199.00 1872.65) scale(1 1.12)" font-size="5.45" fill="#111" xml:space="preserve">Pattern A</text>
<path d="M186.9 1879.2H193.7" stroke="#13139a" stroke-width="1"/>
<path d="M189.4 1879.7L190.3 1878.0L191.2 1879.7Z" fill="#111" stroke="none"/>
<text transform="translate(199.00 1881.35) scale(1 1.12)" font-size="5.45" fill="#111" xml:space="preserve">Pattern B</text>
<path d="M186.9 1887.8H193.7" stroke="#000" stroke-width="1"/>
<path d="M189.4 1888.3L190.3 1886.6L191.2 1888.3Z" fill="#111" stroke="none"/>
<text transform="translate(199.00 1889.95) scale(1 1.12)" font-size="5.45" fill="#111" xml:space="preserve">Pattern C</text>
<text transform="translate(197.20 1910.70) scale(1 1.08)" font-size="4.5" fill="#222" xml:space="preserve">P=0.013</text>
</g>
<g>
<text transform="translate(271.01 1869.4) scale(0.9 1)" font-size="12.6" fill="#000">J</text>
<path d="M309.7 1870.5H317.6V1883.2H319.9V1908.7H340.3V1934.8" fill="none" stroke="#000" stroke-width="1.25"/>
<path d="M309.7 1870.5H331.2V1879.2H344.8V1888.7H347.6H348.2V1900.0H386.1" fill="none" stroke="#13139a" stroke-width="1.25"/>
<path d="M309.7 1870.5H351.2V1902.5H358.0V1934.8" fill="none" stroke="#a50e14" stroke-width="1.25"/>
<path d="M334.6 1869.2v1.5M353.5 1898.7v1.5M373.2 1898.7v1.5M386.1 1898.7v1.5M338.0 1907.4v1.5" stroke="#000" stroke-width="0.7" fill="none"/>
<rect x="309.85" y="1864.5" width="104.0" height="70.2" fill="none" stroke="#000" stroke-width="1.0"/>
<text transform="translate(309.85 1943.70) scale(1 1.06)" font-size="5.3" font-weight="bold" text-anchor="middle" fill="#111" xml:space="preserve">0</text>
<text transform="translate(324.71 1943.70) scale(1 1.06)" font-size="5.3" font-weight="bold" text-anchor="middle" fill="#111" xml:space="preserve">24</text>
<text transform="translate(339.56 1943.70) scale(1 1.06)" font-size="5.3" font-weight="bold" text-anchor="middle" fill="#111" xml:space="preserve">48</text>
<text transform="translate(354.42 1943.70) scale(1 1.06)" font-size="5.3" font-weight="bold" text-anchor="middle" fill="#111" xml:space="preserve">72</text>
<text transform="translate(369.28 1943.70) scale(1 1.06)" font-size="5.3" font-weight="bold" text-anchor="middle" fill="#111" xml:space="preserve">96</text>
<text transform="translate(384.13 1943.70) scale(1 1.06)" font-size="5.3" font-weight="bold" text-anchor="middle" fill="#111" xml:space="preserve">120</text>
<text transform="translate(398.99 1943.70) scale(1 1.06)" font-size="5.3" font-weight="bold" text-anchor="middle" fill="#111" xml:space="preserve">144</text>
<text transform="translate(413.85 1943.70) scale(1 1.06)" font-size="5.3" font-weight="bold" text-anchor="middle" fill="#111" xml:space="preserve">168</text>
<text transform="translate(306.55 1872.50) scale(1 1.06)" font-size="5.3" font-weight="bold" text-anchor="end" fill="#111" xml:space="preserve">100</text>
<text transform="translate(306.55 1888.55) scale(1 1.06)" font-size="5.3" font-weight="bold" text-anchor="end" fill="#111" xml:space="preserve">75</text>
<text transform="translate(306.55 1904.60) scale(1 1.06)" font-size="5.3" font-weight="bold" text-anchor="end" fill="#111" xml:space="preserve">50</text>
<text transform="translate(306.55 1920.65) scale(1 1.06)" font-size="5.3" font-weight="bold" text-anchor="end" fill="#111" xml:space="preserve">25</text>
<text transform="translate(306.55 1936.70) scale(1 1.06)" font-size="5.3" font-weight="bold" text-anchor="end" fill="#111" xml:space="preserve">0</text>
<path d="M309.9 1934.7v2.7M324.7 1934.7v2.7M339.6 1934.7v2.7M354.4 1934.7v2.7M369.3 1934.7v2.7M384.1 1934.7v2.7M399.0 1934.7v2.7M413.8 1934.7v2.7M309.85 1870.5h-2.6M309.85 1886.5h-2.6M309.85 1902.6h-2.6M309.85 1918.7h-2.6M309.85 1934.7h-2.6" stroke="#000" stroke-width="0.9" fill="none"/>
<text transform="translate(362.00 1952.60) scale(1 1.05)" font-size="5.7" font-weight="bold" text-anchor="middle" fill="#111" xml:space="preserve">Overall survival(months)</text>
<text transform="translate(294.55 1899.60) rotate(-90) scale(1 1.05)" font-size="5.75" font-weight="bold" text-anchor="middle" fill="#111" xml:space="preserve">Percent survival</text>
<path d="M372.5 1870.5H379.3" stroke="#a50e14" stroke-width="1"/>
<path d="M375.0 1871.0L375.9 1869.3L376.8 1871.0Z" fill="#111" stroke="none"/>
<text transform="translate(384.60 1872.65) scale(1 1.12)" font-size="5.6" fill="#111" xml:space="preserve">Pattern A</text>
<path d="M372.5 1879.2H379.3" stroke="#13139a" stroke-width="1"/>
<path d="M375.0 1879.7L375.9 1878.0L376.8 1879.7Z" fill="#111" stroke="none"/>
<text transform="translate(384.60 1881.35) scale(1 1.12)" font-size="5.6" fill="#111" xml:space="preserve">Pattern B</text>
<path d="M372.5 1887.8H379.3" stroke="#000" stroke-width="1"/>
<path d="M375.0 1888.3L375.9 1886.6L376.8 1888.3Z" fill="#111" stroke="none"/>
<text transform="translate(384.60 1889.95) scale(1 1.12)" font-size="5.6" fill="#111" xml:space="preserve">Pattern C</text>
<text transform="translate(378.90 1917.10) scale(1 1.08)" font-size="4.5" fill="#222" xml:space="preserve">P=0.005</text>
</g>
<g>
<text transform="translate(83.90 2343.0) scale(0.9 1)" font-size="13.2" fill="#000">A</text>
<path d="M126.5 2348.7H133.3H134.5V2352.8H136.1V2357.3H137.4V2361.8H139.0V2367.5H140.2V2374.3H141.3V2381.1H142.9V2385.7H144.2V2391.3H153.8V2398.1H155.6V2406.1H169.7V2414.7" fill="none" stroke="#000" stroke-width="1.25"/>
<path d="M126.5 2348.7H131.1V2352.8H136.1H137.4V2359.6H139.7V2365.2H147.4H148.1V2374.3H155.6V2380.0H157.2V2387.5H161.0H161.7V2392.9H190.1" fill="none" stroke="#13139a" stroke-width="1.25"/>
<path d="M126.5 2348.7H134.5H135.2V2352.8H136.8V2357.3H137.9V2360.7H139.7V2365.2H141.3V2370.9H144.7H145.8V2376.6H155.6V2383.4V2392.5H157.2V2404.9H163.3" fill="none" stroke="#a50e14" stroke-width="1.25"/>
<path d="M126.5 2348.7H141.3H142.0V2353.4H147.4H148.1V2358.9H161.0H161.7V2364.8H176.0V2374.8H221.4" fill="none" stroke="#1f7f1f" stroke-width="1.25"/>
<path d="M140.2 2347.4v1.5M147.4 2352.1v1.5M170.8 2363.5v1.5M180.5 2373.5v1.5M186.0 2373.5v1.5M188.9 2373.5v1.5M221.4 2373.5v1.5M164.0 2391.6v1.5M169.7 2391.6v1.5M172.4 2391.6v1.5M190.1 2391.6v1.5M163.3 2403.6v1.5M151.5 2390.0v1.5" stroke="#000" stroke-width="0.7" fill="none"/>
<rect x="126.5" y="2342.5" width="109.7" height="72.0" fill="none" stroke="#000" stroke-width="1.0"/>
<text transform="translate(126.50 2423.50) scale(1 1.06)" font-size="5.3" font-weight="bold" text-anchor="middle" fill="#111" xml:space="preserve">0</text>
<text transform="translate(141.03 2423.50) scale(1 1.06)" font-size="5.3" font-weight="bold" text-anchor="middle" fill="#111" xml:space="preserve">24</text>
<text transform="translate(155.56 2423.50) scale(1 1.06)" font-size="5.3" font-weight="bold" text-anchor="middle" fill="#111" xml:space="preserve">48</text>
<text transform="translate(170.09 2423.50) scale(1 1.06)" font-size="5.3" font-weight="bold" text-anchor="middle" fill="#111" xml:space="preserve">72</text>
<text transform="translate(184.62 2423.50) scale(1 1.06)" font-size="5.3" font-weight="bold" text-anchor="middle" fill="#111" xml:space="preserve">96</text>
<text transform="translate(199.15 2423.50) scale(1 1.06)" font-size="5.3" font-weight="bold" text-anchor="middle" fill="#111" xml:space="preserve">120</text>
<text transform="translate(213.68 2423.50) scale(1 1.06)" font-size="5.3" font-weight="bold" text-anchor="middle" fill="#111" xml:space="preserve">144</text>
<text transform="translate(228.21 2423.50) scale(1 1.06)" font-size="5.3" font-weight="bold" text-anchor="middle" fill="#111" xml:space="preserve">168</text>
<text transform="translate(123.20 2351.20) scale(1 1.06)" font-size="5.3" font-weight="bold" text-anchor="end" fill="#111" xml:space="preserve">100</text>
<text transform="translate(123.20 2367.52) scale(1 1.06)" font-size="5.3" font-weight="bold" text-anchor="end" fill="#111" xml:space="preserve">75</text>
<text transform="translate(123.20 2383.85) scale(1 1.06)" font-size="5.3" font-weight="bold" text-anchor="end" fill="#111" xml:space="preserve">50</text>
<text transform="translate(123.20 2400.18) scale(1 1.06)" font-size="5.3" font-weight="bold" text-anchor="end" fill="#111" xml:space="preserve">25</text>
<text transform="translate(123.20 2416.50) scale(1 1.06)" font-size="5.3" font-weight="bold" text-anchor="end" fill="#111" xml:space="preserve">0</text>
<path d="M126.5 2414.5v2.7M141.0 2414.5v2.7M155.6 2414.5v2.7M170.1 2414.5v2.7M184.6 2414.5v2.7M199.1 2414.5v2.7M213.7 2414.5v2.7M228.2 2414.5v2.7M126.5 2349.2h-2.6M126.5 2365.5h-2.6M126.5 2381.8h-2.6M126.5 2398.2h-2.6M126.5 2414.5h-2.6" stroke="#000" stroke-width="0.9" fill="none"/>
<text transform="translate(181.20 2434.20) scale(1 1.05)" font-size="5.9" font-weight="bold" text-anchor="middle" fill="#111" xml:space="preserve">Overall survival(months)</text>
<text transform="translate(111.20 2383.20) rotate(-90) scale(1 1.05)" font-size="5.94" font-weight="bold" text-anchor="middle" fill="#111" xml:space="preserve">Percent survival</text>
<path d="M195.7 2381.1H203.2" stroke="#1f7f1f" stroke-width="1"/>
<path d="M198.5 2381.6L199.4 2379.9L200.3 2381.6Z" fill="#111" stroke="none"/>
<text transform="translate(207.10 2383.25) scale(1 1.12)" font-size="6.0" fill="#111" xml:space="preserve">group  1</text>
<path d="M195.7 2390.2H203.2" stroke="#a50e14" stroke-width="1"/>
<path d="M198.5 2390.7L199.4 2389.0L200.3 2390.7Z" fill="#111" stroke="none"/>
<text transform="translate(207.10 2392.35) scale(1 1.12)" font-size="6.0" fill="#111" xml:space="preserve">group  2</text>
<path d="M195.7 2398.8H203.2" stroke="#13139a" stroke-width="1"/>
<path d="M198.5 2399.3L199.4 2397.6L200.3 2399.3Z" fill="#111" stroke="none"/>
<text transform="translate(207.10 2400.95) scale(1 1.12)" font-size="6.0" fill="#111" xml:space="preserve">group  3</text>
<path d="M195.7 2407.2H203.2" stroke="#000" stroke-width="1"/>
<path d="M198.5 2407.7L199.4 2406.0L200.3 2407.7Z" fill="#111" stroke="none"/>
<text transform="translate(207.10 2409.35) scale(1 1.12)" font-size="6.0" fill="#111" xml:space="preserve">group  4</text>
<text transform="translate(193.50 2372.50) scale(1 1.08)" font-size="4.5" fill="#222" xml:space="preserve">P<0.001</text>
</g>
<g>
<text transform="translate(271.13 2343.0) scale(0.9 1)" font-size="13.2" fill="#000">B</text>
<path d="M318.5 2348.7H328.1H329.4V2353.4H331.7V2358.4H334.0V2363.0H336.2V2367.5H337.8V2374.3H339.4V2381.1H341.2V2386.1H345.8V2389.1H348.0V2393.6H350.3V2398.1H353.7V2401.5H359.4V2402.7H360.5V2406.1H368.5V2407.2H371.9V2410.2H375.3V2410.6V2414.7" fill="none" stroke="#000" stroke-width="1.25"/>
<path d="M318.5 2348.7H329.4H330.3V2352.8H332.6H333.3V2360.7H336.7V2364.1H339.4V2369.8H341.2V2374.3H343.5V2380.0H345.8V2383.4H346.9V2387.9H356.0H356.7V2395.2H377.5H378.7V2399.3H383.2H383.9V2405.6H388.9H390.0V2408.3H401.4H402.5V2411.8V2414.7" fill="none" stroke="#13139a" stroke-width="1.25"/>
<path d="M318.5 2348.7H336.7H337.8V2355.0H339.0V2360.7H340.8V2366.4H342.4V2372.0H345.8H346.9V2377.7H351.4H352.6V2387.5H365.1H366.2V2393.6H368.0H368.9V2406.1H370.3V2408.8H402.5V2414.7" fill="none" stroke="#a50e14" stroke-width="1.25"/>
<path d="M318.5 2348.7H323.5H324.2V2353.4H330.3H331.0V2360.7H335.6H336.7V2365.7H343.0H344.0V2370.9H350.3H351.4V2380.0H365.1H366.2V2383.4H370.3H371.2V2392.5H377.5H378.7V2400.4H380.9V2403.8H383.2V2410.2H396.8H397.5V2414.7" fill="none" stroke="#1f7f1f" stroke-width="1.25"/>
<rect x="318.4" y="2342.5" width="109.2" height="72.1" fill="none" stroke="#000" stroke-width="1.0"/>
<text transform="translate(318.30 2423.60) scale(1 1.06)" font-size="5.3" font-weight="bold" text-anchor="middle" fill="#111" xml:space="preserve">0</text>
<text transform="translate(340.16 2423.60) scale(1 1.06)" font-size="5.3" font-weight="bold" text-anchor="middle" fill="#111" xml:space="preserve">12</text>
<text transform="translate(362.02 2423.60) scale(1 1.06)" font-size="5.3" font-weight="bold" text-anchor="middle" fill="#111" xml:space="preserve">24</text>
<text transform="translate(383.88 2423.60) scale(1 1.06)" font-size="5.3" font-weight="bold" text-anchor="middle" fill="#111" xml:space="preserve">36</text>
<text transform="translate(405.74 2423.60) scale(1 1.06)" font-size="5.3" font-weight="bold" text-anchor="middle" fill="#111" xml:space="preserve">48</text>
<text transform="translate(427.60 2423.60) scale(1 1.06)" font-size="5.3" font-weight="bold" text-anchor="middle" fill="#111" xml:space="preserve">60</text>
<text transform="translate(315.10 2351.20) scale(1 1.06)" font-size="5.3" font-weight="bold" text-anchor="end" fill="#111" xml:space="preserve">100</text>
<text transform="translate(315.10 2367.52) scale(1 1.06)" font-size="5.3" font-weight="bold" text-anchor="end" fill="#111" xml:space="preserve">75</text>
<text transform="translate(315.10 2383.85) scale(1 1.06)" font-size="5.3" font-weight="bold" text-anchor="end" fill="#111" xml:space="preserve">50</text>
<text transform="translate(315.10 2400.18) scale(1 1.06)" font-size="5.3" font-weight="bold" text-anchor="end" fill="#111" xml:space="preserve">25</text>
<text transform="translate(315.10 2416.50) scale(1 1.06)" font-size="5.3" font-weight="bold" text-anchor="end" fill="#111" xml:space="preserve">0</text>
<path d="M318.3 2414.6v2.7M340.2 2414.6v2.7M362.0 2414.6v2.7M383.9 2414.6v2.7M405.7 2414.6v2.7M427.6 2414.6v2.7M318.4 2349.2h-2.6M318.4 2365.5h-2.6M318.4 2381.8h-2.6M318.4 2398.2h-2.6M318.4 2414.5h-2.6" stroke="#000" stroke-width="0.9" fill="none"/>
<text transform="translate(373.30 2434.40) scale(1 1.05)" font-size="6.0" font-weight="bold" text-anchor="middle" fill="#111" xml:space="preserve">Progression-free survival(months)</text>
<text transform="translate(303.10 2383.20) rotate(-90) scale(1 1.05)" font-size="5.94" font-weight="bold" text-anchor="middle" fill="#111" xml:space="preserve">Percent survival</text>
<path d="M381.6 2348.9H388.9" stroke="#1f7f1f" stroke-width="1"/>
<path d="M384.4 2349.4L385.2 2347.7L386.1 2349.4Z" fill="#111" stroke="none"/>
<text transform="translate(393.40 2351.05) scale(1 1.12)" font-size="6.0" fill="#111" xml:space="preserve">group  1</text>
<path d="M381.6 2358.0H388.9" stroke="#a50e14" stroke-width="1"/>
<path d="M384.4 2358.5L385.2 2356.8L386.1 2358.5Z" fill="#111" stroke="none"/>
<text transform="translate(393.40 2360.15) scale(1 1.12)" font-size="6.0" fill="#111" xml:space="preserve">group  2</text>
<path d="M381.6 2367.0H388.9" stroke="#13139a" stroke-width="1"/>
<path d="M384.4 2367.5L385.2 2365.8L386.1 2367.5Z" fill="#111" stroke="none"/>
<text transform="translate(393.40 2369.15) scale(1 1.12)" font-size="6.0" fill="#111" xml:space="preserve">group  3</text>
<path d="M381.6 2375.4H388.9" stroke="#000" stroke-width="1"/>
<path d="M384.4 2375.9L385.2 2374.2L386.1 2375.9Z" fill="#111" stroke="none"/>
<text transform="translate(393.40 2377.55) scale(1 1.12)" font-size="6.0" fill="#111" xml:space="preserve">group  4</text>
<text transform="translate(389.30 2403.60) scale(1 1.08)" font-size="4.5" fill="#222" xml:space="preserve">P=0.143</text>
</g>
</g></svg>
</body>
</html>
